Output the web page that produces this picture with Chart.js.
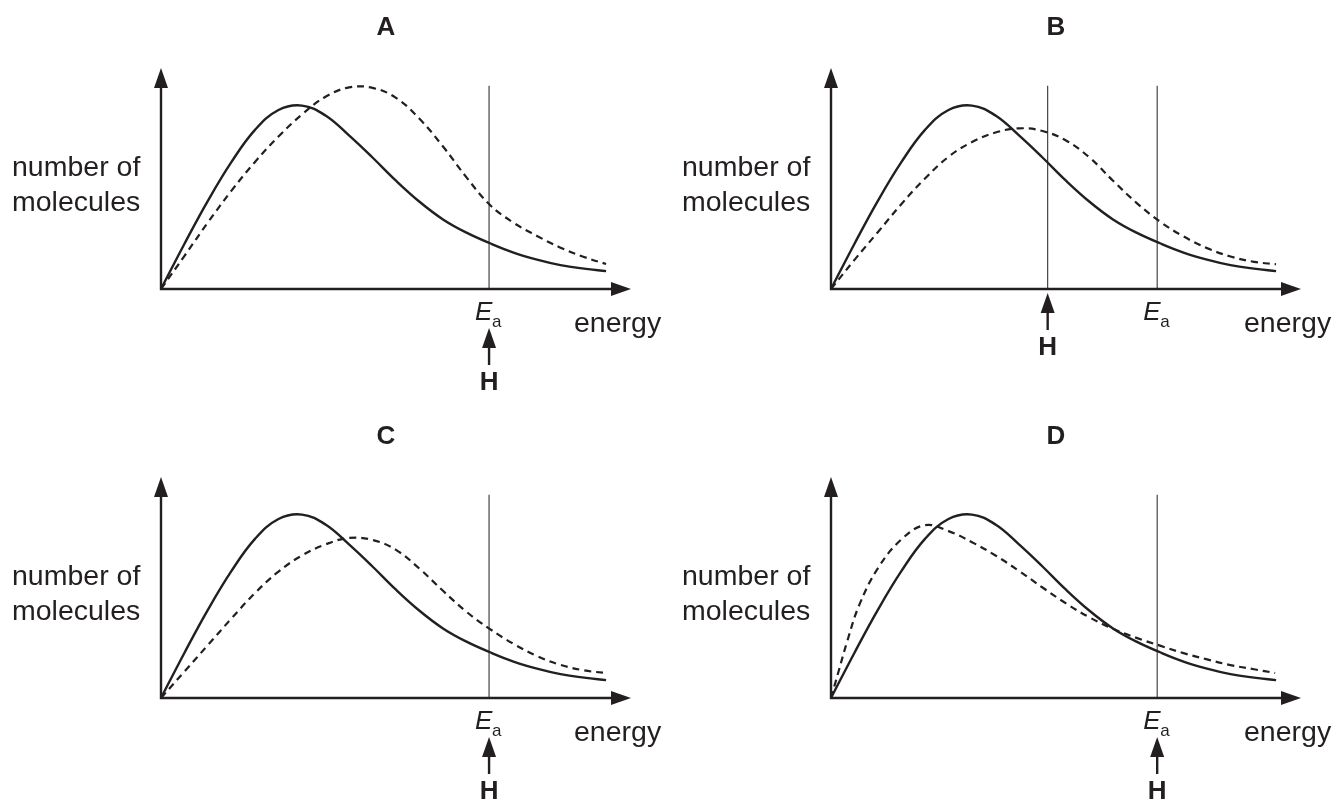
<!doctype html>
<html lang="en">
  <head>
    <meta charset="UTF-8" />
    <title>Energy distributions</title>
    <style>
      body { margin: 0; background: #fff; overflow: hidden; }
      .panel { position: absolute; }
    </style>
  </head>
  <body>
    <canvas id="chartA" class="panel" width="664" height="396" style="left:0;top:0"></canvas>
    <canvas id="chartB" class="panel" width="664" height="396" style="left:670px;top:0"></canvas>
    <canvas id="chartC" class="panel" width="664" height="396" style="left:0;top:409px"></canvas>
    <canvas id="chartD" class="panel" width="664" height="396" style="left:670px;top:409px"></canvas>
    <script src="https://cdn.jsdelivr.net/npm/chart.js"></script>
    <script>
      // energy in arbitrary units (axis arrow tip at 10), number of molecules 0..10
      const energy = [0, 0.5, 1, 1.5, 2, 2.5, 3, 3.5, 4, 4.5, 5, 5.5, 6, 6.5, 7, 7.5, 8, 8.5, 9, 9.47];

      // solid curve, the same in every panel
      const solidCount = [0, 2.05, 4.0, 5.75, 7.2, 8.1, 8.3, 7.85, 6.95, 5.95, 4.9, 3.95, 3.15, 2.55, 2.07, 1.65, 1.33, 1.08, 0.92, 0.81];

      // dashed curves
      const dashedACount = [0, 1.5, 3.02, 4.45, 5.75, 6.9, 7.9, 8.7, 9.12, 9.1, 8.65, 7.7, 6.45, 5.05, 3.8, 3.0, 2.4, 1.87, 1.45, 1.13];
      const dashedBCount = [0, 1.32, 2.58, 3.85, 5.0, 5.98, 6.65, 7.08, 7.27, 7.15, 6.72, 5.95, 4.9, 3.9, 3.05, 2.38, 1.85, 1.47, 1.23, 1.12];
      const dashedCCount = [0, 1.2, 2.4, 3.6, 4.75, 5.72, 6.45, 6.95, 7.24, 7.15, 6.7, 5.85, 4.85, 3.9, 3.12, 2.45, 1.9, 1.5, 1.25, 1.13];

      // panel D's dashed curve rises steeply, so it is read at finer steps
      const dashedDEnergy = [0, 0.15, 0.35, 0.6, 1, 1.5, 2, 2.5, 3, 3.5, 4, 4.5, 5, 5.5, 6, 6.5, 7, 7.5, 8, 8.5, 9, 9.45];
      const dashedDCount = [0, 1.12, 2.6, 4.2, 5.88, 7.18, 7.82, 7.55, 7.05, 6.45, 5.75, 5.0, 4.28, 3.65, 3.13, 2.72, 2.37, 2.03, 1.75, 1.49, 1.3, 1.13];

      const titles = ["A", "B", "C", "D"];
      const eaEnergy = [6.98, 6.94, 6.98, 6.94];
      const hEnergy = [6.98, 4.61, 6.98, 6.94];
      const lineTop = 9.2;

      const ink = "#231f20";
      const font = "'Liberation Sans', Arial, sans-serif";

      function toPoints(xs, ys) {
        return xs.map((x, k) => ({ x: x, y: ys[k] }));
      }

      function arrowHead(ctx, x, y, dir) {
        // (x,y) is the tip
        ctx.beginPath();
        if (dir === "up") {
          ctx.moveTo(x, y);
          ctx.lineTo(x - 7, y + 20);
          ctx.lineTo(x + 7, y + 20);
        } else {
          ctx.moveTo(x, y);
          ctx.lineTo(x - 20, y - 7);
          ctx.lineTo(x - 20, y + 7);
        }
        ctx.closePath();
        ctx.fill();
      }

      const decorations = {
        id: "decorations",
        beforeDatasetsDraw(chart, args, opts) {
          const ctx = chart.ctx;
          const xs = chart.scales.x, ys = chart.scales.y;
          const oy = ys.getPixelForValue(0);
          const top = ys.getPixelForValue(lineTop);
          ctx.save();
          ctx.strokeStyle = "#333";
          ctx.lineWidth = 1.1;
          const marks = opts.h === opts.ea ? [opts.ea] : [opts.h, opts.ea];
          marks.forEach((e) => {
            const px = xs.getPixelForValue(e);
            ctx.beginPath();
            ctx.moveTo(px, top);
            ctx.lineTo(px, oy);
            ctx.stroke();
          });
          ctx.restore();
        },
        afterDatasetsDraw(chart, args, opts) {
          const ctx = chart.ctx;
          const xs = chart.scales.x, ys = chart.scales.y;
          const ox = xs.getPixelForValue(0), oy = ys.getPixelForValue(0);
          const xTip = xs.getPixelForValue(10), yTip = ys.getPixelForValue(10);
          ctx.save();
          ctx.strokeStyle = ink;
          ctx.fillStyle = ink;
          ctx.lineWidth = 2.4;
          ctx.beginPath();
          ctx.moveTo(ox, yTip + 12);
          ctx.lineTo(ox, oy);
          ctx.lineTo(xTip - 12, oy);
          ctx.stroke();
          arrowHead(ctx, ox, yTip, "up");
          arrowHead(ctx, xTip, oy, "right");

          // panel letter
          ctx.font = "bold 26px " + font;
          ctx.textAlign = "center";
          ctx.fillText(opts.title, 386, 35);

          // axis labels
          ctx.textAlign = "left";
          ctx.font = "28.5px " + font;
          ctx.fillText("number of", 12, 176);
          ctx.fillText("molecules", 12, 211);
          ctx.fillText("energy", 574, 332);

          // E_a label
          const eaPx = xs.getPixelForValue(opts.ea);
          ctx.font = "italic 26px " + font;
          ctx.fillText("E", eaPx - 14, 320);
          ctx.font = "17px " + font;
          ctx.fillText("a", eaPx + 3, 327);

          // H arrow
          const hPx = xs.getPixelForValue(opts.h);
          const tip = opts.h === opts.ea ? 328 : 293;
          arrowHead(ctx, hPx, tip, "up");
          ctx.lineWidth = 2.4;
          ctx.beginPath();
          ctx.moveTo(hPx, tip + 15);
          ctx.lineTo(hPx, tip + 37);
          ctx.stroke();
          ctx.font = "bold 26px " + font;
          ctx.textAlign = "center";
          ctx.fillText("H", hPx, tip + 62);
          ctx.restore();
        },
      };

      function makePanel(id, i, dashedPoints) {
        const ctx = document.getElementById(id).getContext("2d");
        return new Chart(ctx, {
          type: "line",
          data: {
            datasets: [
              {
                label: "solid",
                data: toPoints(energy, solidCount),
                borderColor: ink,
                borderWidth: 2.4,
                pointRadius: 0,
                tension: 0.4,
              },
              {
                label: "dashed",
                data: dashedPoints,
                borderColor: ink,
                borderWidth: 2.2,
                borderDash: [7, 5],
                pointRadius: 0,
                tension: 0.4,
              },
            ],
          },
          options: {
            responsive: false,
            animation: false,
            devicePixelRatio: 1,
            layout: { padding: { left: 161, right: 33, top: 68, bottom: 107 } },
            scales: {
              x: { type: "linear", min: 0, max: 10, display: false },
              y: { min: 0, max: 10, display: false },
            },
            plugins: {
              legend: { display: false },
              tooltip: { enabled: false },
              decorations: { title: titles[i], ea: eaEnergy[i], h: hEnergy[i] },
            },
          },
          plugins: [decorations],
        });
      }

      makePanel("chartA", 0, toPoints(energy, dashedACount));
      makePanel("chartB", 1, toPoints(energy, dashedBCount));
      makePanel("chartC", 2, toPoints(energy, dashedCCount));
      makePanel("chartD", 3, toPoints(dashedDEnergy, dashedDCount));
    </script>
  </body>
</html>
